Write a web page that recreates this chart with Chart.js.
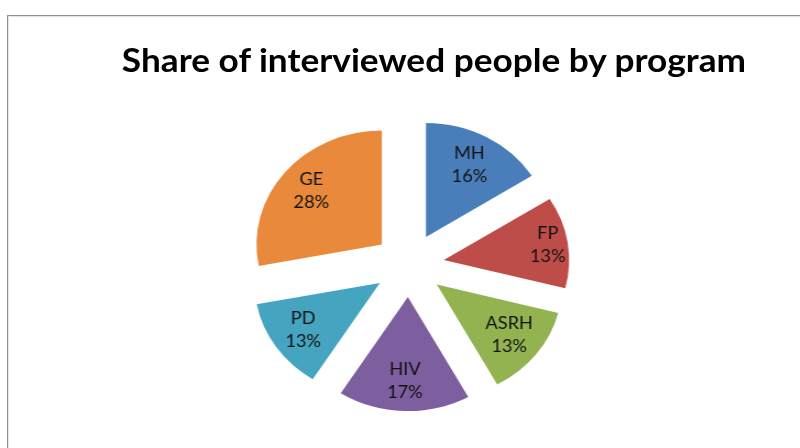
<!DOCTYPE html>
<html>
<head>
<meta charset="utf-8">
<script src="https://cdn.jsdelivr.net/npm/chart.js@4/dist/chart.umd.min.js"></script>
<style>
  html, body { margin: 0; padding: 0; background: #fff; }
  body { width: 800px; height: 448px; position: relative; overflow: hidden; }
  #frame { position: absolute; left: 7px; top: 15px; width: 900px; height: 500px;
           border: 1px solid #8f8f8f; box-shadow: inset 1px 1px 0 #e4e4e4; }
  /* the source picture is stretched sideways by about 10%, so is this */
  #wrap { position: absolute; left: 0; top: 0; width: 727px; height: 448px;
          transform: scaleX(1.1); transform-origin: 0 0; }
  #title { position: absolute; left: 0; top: 40px; width: 789px; text-align: center;
           font: bold 32px Lato, sans-serif; color: #000; white-space: nowrap; }
  #chart { position: absolute; left: 0; top: 0; }
</style>
</head>
<body>
<div id="frame"></div>
<div id="wrap">
  <div id="title">Share of interviewed people by program</div>
  <canvas id="chart" width="727" height="448"></canvas>
</div>
<script>
// ---------------- Data ----------------
const programs = ["MH", "FP", "ASRH", "HIV", "PD", "GE"];
const shares = [16, 13, 13, 17, 13, 28];

// ---------------- Style ----------------
const colors = ["#4A7EBB", "#BE4D4A", "#92B350", "#7D5FA0", "#45A5C0", "#E8893C"];
const PIE_RADIUS = 114;
const EXPLODE = 32;
const labelDist = [0.72, 0.84, 0.73, 0.74, 0.74, 0.73];

// push every slice out along its middle angle (Excel-style exploded pie)
const explodePlugin = {
  id: "explode",
  afterDatasetsUpdate(chart) {
    chart.getDatasetMeta(0).data.forEach(arc => {
      const mid = (arc.startAngle + arc.endAngle) / 2;
      arc.x += Math.cos(mid) * EXPLODE;
      arc.y += Math.sin(mid) * EXPLODE;
    });
  }
};

// name + percent inside each slice
const sliceLabels = {
  id: "sliceLabels",
  afterDatasetsDraw(chart) {
    const ctx = chart.ctx;
    const total = shares.reduce((a, b) => a + b, 0);
    ctx.save();
    ctx.fillStyle = "#121212";
    ctx.font = "16.5px Lato, sans-serif";
    ctx.textAlign = "center";
    ctx.textBaseline = "middle";
    chart.getDatasetMeta(0).data.forEach((arc, i) => {
      const mid = (arc.startAngle + arc.endAngle) / 2;
      const r = arc.outerRadius * labelDist[i];
      const x = arc.x + Math.cos(mid) * r;
      const y = arc.y + Math.sin(mid) * r;
      ctx.fillText(programs[i], x, y - 11.5);
      ctx.fillText(Math.round(shares[i] / total * 100) + "%", x, y + 11.5);
    });
    ctx.restore();
  }
};

new Chart(document.getElementById("chart"), {
  type: "pie",
  data: {
    labels: programs,
    datasets: [{
      data: shares,
      backgroundColor: colors,
      borderWidth: 0,
      radius: PIE_RADIUS
    }]
  },
  options: {
    responsive: false,
    animation: false,
    events: [],
    layout: { padding: { left: 16.6, right: 0, top: 82, bottom: 0 } },
    plugins: {
      legend: { display: false },
      tooltip: { enabled: false },
      title: { display: false }
    }
  },
  plugins: [explodePlugin, sliceLabels]
});
</script>
</body>
</html>
